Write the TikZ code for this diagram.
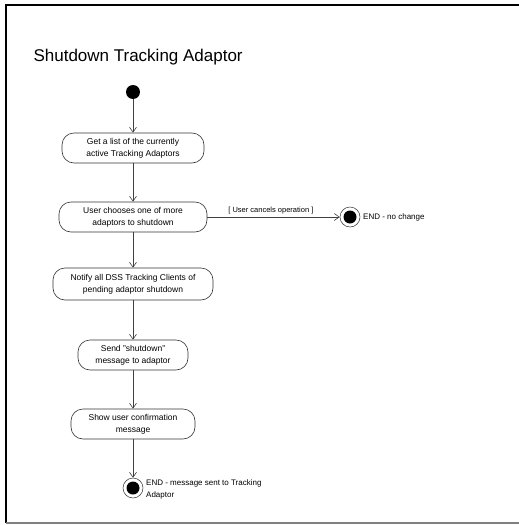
\documentclass[tikz,border=0pt]{standalone}
\usepackage{fontspec}
\setmainfont{Liberation Sans}
\usetikzlibrary{arrows.meta}
\begin{document}
\begin{tikzpicture}[x=1pt,y=-1pt,
  activity/.style={draw=black!80, line width=0.6pt, rounded corners=12pt,
    align=center, font=\fontsize{8.5}{12}\selectfont, inner sep=2pt,
    minimum height=30pt},
  flow/.style={draw=black!75, line width=0.7pt,
    -{Straight Barb[length=5pt,width=7pt,line width=0.6pt]}},
  startdot/.style={circle, fill=black, minimum size=14pt, inner sep=0pt},
  enddot/.style={circle, fill=black, minimum size=13pt, inner sep=0pt},
  endring/.style={circle, draw=black!80, line width=0.5pt, minimum size=20pt, inner sep=0pt},
  note/.style={font=\fontsize{8}{12}\selectfont, align=left, inner sep=1pt},
  guard/.style={font=\fontsize{7.5}{9}\selectfont, inner sep=1pt}]
  \useasboundingbox (0,0) rectangle (519,525);
  % page frame
  \draw[line width=2pt] (6,523) -- (6,5) -- (519,5);
  \draw[black!50, line width=1.2pt] (6,523) -- (519,523);

  % title
  \node[anchor=west, font=\fontsize{17}{20}\selectfont] (title) at (30,57) {Shutdown Tracking Adaptor};

  % initial state
  \node[startdot] (start) at (133,92) {};

  % actions
  \node[activity, minimum width=142pt] (list) at (133,148)
    {Get a list of the currently\\active Tracking Adaptors};
  \node[activity, minimum width=148pt] (choose) at (133,217)
    {User chooses one of more\\adaptors to shutdown};
  \node[activity, minimum width=160pt, minimum height=32pt] (notify) at (133,284)
    {Notify all DSS Tracking Clients of\\pending adaptor shutdown};
  \node[activity, minimum width=110pt] (send) at (133,355)
    {Send "shutdown"\\message to adaptor};
  \node[activity, minimum width=124pt] (confirm) at (133,424)
    {Show user confirmation\\message};

  % final states
  \node[endring] (cancelring) at (350,217) {};
  \node[enddot] (cancelend) at (350,217) {};
  \node[note, anchor=west] (cancellabel) at (362,217) {END - no change};

  \node[endring] (donering) at (133,488) {};
  \node[enddot] (doneend) at (133,488) {};
  \node[note, anchor=west] (donelabel) at (145,489) {END - message sent to Tracking\\Adaptor};

  % transitions
  \draw[flow] (start) -- (list);
  \draw[flow] (list) -- (choose);
  \draw[flow] (choose) -- (notify);
  \draw[flow] (notify) -- (send);
  \draw[flow] (send) -- (confirm);
  \draw[flow] (confirm) -- (donering);
  \draw[flow] (choose) -- node[above, guard, pos=0.48, yshift=2pt] {[ User cancels operation ]} (cancelring);
\end{tikzpicture}
\end{document}
